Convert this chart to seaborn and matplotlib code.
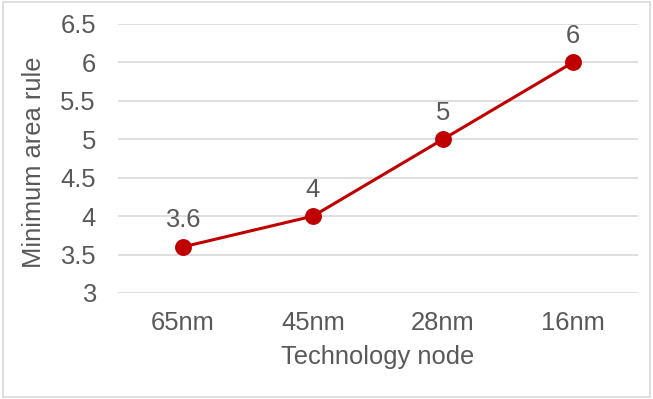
import matplotlib

matplotlib.use("Agg")

import matplotlib.pyplot as plt
import pandas as pd
import seaborn as sns
from matplotlib.patches import Rectangle

nodes = ["65nm", "45nm", "28nm", "16nm"]
area_rule = [3.6, 4, 5, 6]
point_labels = ["3.6", "4", "5", "6"]
y_ticks = [3, 3.5, 4, 4.5, 5, 5.5, 6, 6.5]
y_tick_labels = ["3", "3.5", "4", "4.5", "5", "5.5", "6", "6.5"]

text_gray = "#595959"
red = "#C00000"
fs = 18.4

sns.set_theme(style="white")
plt.rcParams["font.family"] = ["Liberation Sans", "DejaVu Sans"]

df = pd.DataFrame({"node": nodes, "area": area_rule})

fig = plt.figure(figsize=(6.53, 3.99), dpi=100)
ax = fig.add_axes([0.1807, 0.2657, 0.7963, 0.6742])

sns.pointplot(
    data=df, x="node", y="area", color=red, markers="o",
    linestyles="-", linewidth=2.2, markersize=10.5, ax=ax,
)

for i, (val, lab) in enumerate(zip(area_rule, point_labels)):
    ax.annotate(lab, (i, val), xytext=(0, 19), textcoords="offset points",
                ha="center", va="center", fontsize=fs, color=text_gray)

ax.set_ylim(3, 6.5)
ax.set_xlim(-0.5, 3.5)
ax.set_yticks(y_ticks)
ax.set_yticklabels(y_tick_labels)
ax.yaxis.grid(True, color="#D9D9D9", linewidth=1.2)
ax.set_axisbelow(True)
for s in ax.spines.values():
    s.set_visible(False)
ax.tick_params(axis="both", length=0, labelsize=fs, labelcolor=text_gray)
ax.tick_params(axis="x", pad=13)
ax.tick_params(axis="y", pad=16)

ax.set_xlabel("Technology node", fontsize=fs, color=text_gray)
ax.set_ylabel("Minimum area rule", fontsize=fs, color=text_gray)
ax.xaxis.set_label_coords(0.5, -0.195)
ax.yaxis.set_label_coords(-0.138, 0.485)

fig.patches.append(Rectangle((0.004, 0.006), 0.992, 0.989, transform=fig.transFigure,
                             fill=False, edgecolor="#D9D9D9", linewidth=1.2))

fig.savefig("out.png", dpi=100)
